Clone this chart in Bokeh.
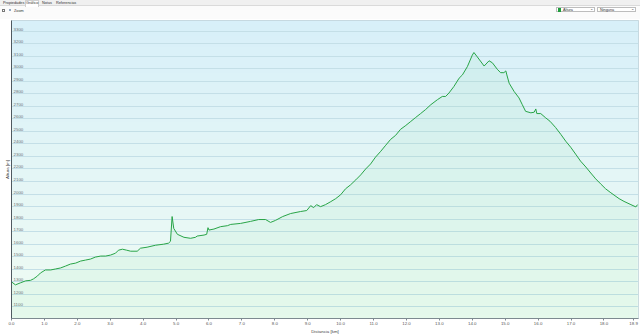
import numpy as np
from bokeh.plotting import figure
from bokeh.models import ColumnDataSource, FixedTicker, Range1d, Div, CustomJSTickFormatter
from bokeh.layouts import column
from bokeh.embed import file_html
from bokeh.resources import INLINE
from bokeh.core.properties import value

# ---- data (distance in km, altitude in m) ----
dist_km = [0.00, 0.12, 0.27, 0.43, 0.58, 0.67, 0.79, 0.88, 1.03, 1.19, 1.34, 1.49, 1.64, 1.79,
           1.95, 2.10, 2.25, 2.40, 2.55, 2.71, 2.86, 3.01, 3.16, 3.25, 3.37, 3.50, 3.62, 3.82,
           3.92, 4.12, 4.38, 4.62, 4.77, 4.83, 4.88, 4.93, 5.04, 5.24, 5.44, 5.59, 5.64, 5.85,
           5.93, 5.97, 6.00, 6.15, 6.35, 6.56, 6.66, 6.96, 7.26, 7.51, 7.72, 7.87, 8.02, 8.24,
           8.48, 8.78, 8.97, 9.09, 9.18, 9.27, 9.39, 9.54, 9.70, 9.85, 10.00, 10.15, 10.30,
           10.46, 10.61, 10.76, 10.91, 11.06, 11.22, 11.37, 11.52, 11.67, 11.82, 11.98, 12.13,
           12.28, 12.43, 12.58, 12.74, 12.94, 13.09, 13.19, 13.29, 13.44, 13.60, 13.70, 13.85,
           14.00, 14.05, 14.15, 14.36, 14.51, 14.61, 14.76, 14.86, 14.96, 15.02, 15.05, 15.12,
           15.27, 15.42, 15.52, 15.62, 15.78, 15.88, 15.93, 15.96, 16.08, 16.23, 16.36, 16.53,
           16.69, 16.84, 16.99, 17.14, 17.29, 17.45, 17.60, 17.75, 17.90, 18.05, 18.21, 18.46,
           18.61, 18.82, 18.97, 19.02]
alt_m = [1298, 1274, 1290, 1306, 1310, 1322, 1345, 1369, 1393, 1393, 1401, 1409, 1424, 1440,
         1448, 1464, 1472, 1480, 1496, 1504, 1504, 1512, 1527, 1551, 1559, 1551, 1543, 1543,
         1567, 1575, 1591, 1599, 1607, 1622, 1820, 1725, 1678, 1654, 1646, 1654, 1664, 1672,
         1678, 1731, 1712, 1720, 1739, 1747, 1757, 1765, 1781, 1796, 1796, 1773, 1789, 1820,
         1844, 1860, 1868, 1907, 1891, 1915, 1899, 1915, 1939, 1963, 1994, 2042, 2073,
         2113, 2153, 2200, 2240, 2295, 2342, 2390, 2437, 2469, 2517, 2548, 2580,
         2612, 2643, 2675, 2714, 2754, 2780, 2780, 2807, 2859, 2926, 2952, 3018,
         3110, 3131, 3097, 3023, 3065, 3049, 2997, 2970, 2970, 2984, 2952, 2886,
         2820, 2768, 2714, 2661, 2649, 2654, 2680, 2643, 2643, 2609, 2582, 2532,
         2477, 2422, 2374, 2319, 2263, 2216, 2168, 2121, 2081, 2042, 2010, 1963,
         1941, 1915, 1897, 1915]

x_ticks = [0, 1, 2, 3, 4, 5, 6, 7, 8, 9, 10, 11, 12, 13, 14, 15, 16, 17, 18, 18.9]
y_ticks = [1100, 1200, 1300, 1400, 1500, 1600, 1700, 1800, 1900, 2000, 2100, 2200,
           2300, 2400, 2500, 2600, 2700, 2800, 2900, 3000, 3100, 3200, 3300]
y_tick_labels = [str(v) for v in y_ticks]

X0, X1 = 0.0, 19.05
Y0, Y1 = 1005, 3387
FONT = "Liberation Sans"
FS = "4.4px"

# ---- top toolbar (UI chrome) ----
top_html = """
<div style="position:relative;width:640px;height:19px;background:#fbfbfb;font-family:'Liberation Sans',sans-serif;font-size:3.8px;line-height:4px;color:#333;overflow:hidden;">
  <div style="position:absolute;left:0;top:0;width:640px;height:6px;background:#f0f0f0;border-bottom:1px solid #dadada;"></div>
  <span style="position:absolute;left:3px;top:1px;">Propiedades</span>
  <span style="position:absolute;left:25px;top:0px;height:7px;width:14px;background:#ffffff;border:1px solid #d0d0d0;border-bottom:none;"></span>
  <span style="position:absolute;left:26px;top:1px;">Gráfico</span>
  <span style="position:absolute;left:42px;top:1px;">Notas</span>
  <span style="position:absolute;left:56px;top:1px;">Referencias</span>
  <div style="position:absolute;left:2px;top:9px;width:3px;height:3px;border:1px solid #777;background:#fff;"></div>
  <div style="position:absolute;left:9px;top:9px;width:2px;height:2px;border:1px solid #4a6d9c;border-radius:50%;"></div>
  <span style="position:absolute;left:14px;top:9px;">Zoom</span>
  <div style="position:absolute;left:556px;top:7px;width:39px;height:5px;border:1px solid #bdbdbd;background:#fff;"></div>
  <div style="position:absolute;left:558px;top:8px;width:3px;height:4px;background:#1e9e3c;"></div>
  <span style="position:absolute;left:563px;top:8px;">Altura</span>
  <span style="position:absolute;left:590px;top:7px;">&#8964;</span>
  <div style="position:absolute;left:597px;top:7px;width:39px;height:5px;border:1px solid #bdbdbd;background:#fff;"></div>
  <span style="position:absolute;left:600px;top:8px;">Ninguna</span>
  <span style="position:absolute;left:631px;top:7px;">&#8964;</span>
</div>
"""
top = Div(text=top_html, width=640, height=19, margin=(0, 0, 0, 0))

# ---- chart ----
p = figure(width=640, height=317, output_backend="svg", toolbar_location=None,
           x_range=Range1d(X0, X1), y_range=Range1d(Y0, Y1),
           min_border_left=11, min_border_right=2, min_border_top=1, min_border_bottom=15,
           margin=(0, 0, 0, 0))
p.border_fill_color = "#ffffff"
p.background_fill_color = "#e6f7f4"
p.outline_line_color = "#c0d2d8"

# vertical gradient background (style only)
top_c = np.array([216, 240, 249])
bot_c = np.array([240, 252, 244])
n = 80
t = np.linspace(0, 1, n)[:, None]
cols = (bot_c * (1 - t) + top_c * t).astype(np.uint32)
img = np.empty((n, 1), dtype=np.uint32)
view = img.view(dtype=np.uint8).reshape((n, 1, 4))
view[:, 0, 0] = cols[:, 0]
view[:, 0, 1] = cols[:, 1]
view[:, 0, 2] = cols[:, 2]
view[:, 0, 3] = 255
bg = p.image_rgba(image=[img], x=X0, y=Y0, dw=X1 - X0, dh=Y1 - Y0)
bg.level = "image"

src = ColumnDataSource(dict(x=dist_km, y=alt_m))
p.varea(x="x", y1=Y0, y2="y", source=src, fill_color="#5ccf80", fill_alpha=0.07)
p.line(x="x", y="y", source=src, line_color="#28a447", line_width=1.0)

# grid
p.xgrid.grid_line_color = None
p.ygrid.ticker = FixedTicker(ticks=y_ticks)
p.ygrid.grid_line_color = "#c4dfe7"
p.ygrid.grid_line_width = 1

# y tick labels drawn inside the plot
lab_src = ColumnDataSource(dict(x=[X0] * len(y_ticks), y=y_ticks, t=y_tick_labels))
p.text(x="x", y="y", text="t", source=lab_src, x_offset=2, y_offset=-0.5,
       text_font=value(FONT), text_font_size=FS, text_color="#6b7378",
       text_baseline="bottom", text_align="left")

# axes
p.xaxis.ticker = FixedTicker(ticks=x_ticks)
p.xaxis.formatter = CustomJSTickFormatter(code="return tick.toFixed(1);")
p.xaxis.axis_label = "Distancia [km]"
p.xaxis.axis_line_color = "#7d8a90"
p.xaxis.major_tick_line_color = "#7d8a90"
p.xaxis.major_tick_out = 2
p.xaxis.major_tick_in = 0
p.xaxis.minor_tick_line_color = None
p.xaxis.major_label_standoff = 1
p.xaxis.major_label_text_font = FONT
p.xaxis.major_label_text_font_size = FS
p.xaxis.major_label_text_color = "#555"
p.xaxis.axis_label_standoff = 1
p.xaxis.axis_label_text_font = FONT
p.xaxis.axis_label_text_font_size = FS
p.xaxis.axis_label_text_font_style = "normal"
p.xaxis.axis_label_text_color = "#444"

p.yaxis.ticker = FixedTicker(ticks=[])
p.yaxis.axis_label = "Altura [m]"
p.yaxis.axis_line_color = "#4f5a60"
p.yaxis.major_tick_line_color = None
p.yaxis.minor_tick_line_color = None
p.yaxis.major_label_text_font_size = "0px"
p.yaxis.major_label_standoff = 0
p.yaxis.axis_label_standoff = 2
p.yaxis.axis_label_text_font = FONT
p.yaxis.axis_label_text_font_size = FS
p.yaxis.axis_label_text_font_style = "normal"
p.yaxis.axis_label_text_color = "#444"

layout = column(top, p, spacing=0)
open("out.html", "w").write(file_html(layout, INLINE))
